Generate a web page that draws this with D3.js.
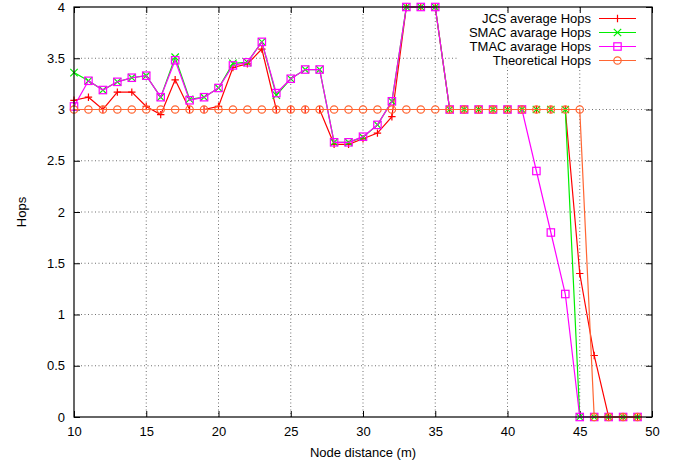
<!DOCTYPE html>
<html><head><meta charset="utf-8">
<script src="https://cdn.jsdelivr.net/npm/d3@7"></script>
<style>
html,body{margin:0;padding:0;background:#fff;}
text{font-family:"Liberation Sans",Arial,Helvetica,sans-serif;font-size:13px;fill:#000;}
</style></head>
<body><svg id="c" width="683" height="462"></svg>
<script>
const distances = d3.range(10, 50);
const jcsHops = [3.09,3.12,3.0,3.17,3.17,3.03,2.95,3.29,3.0,3.0,3.03,3.41,3.445,3.59,3.0,3.0,3.0,3.0,2.66,2.66,2.715,2.77,2.93,4,4,4,3,3,3,3,3,3,3,3,3,1.4,0.6,0,0,0];
const smacHops = [3.36,3.28,3.19,3.27,3.31,3.33,3.12,3.51,3.10,3.12,3.21,3.45,3.46,3.66,3.14,3.30,3.39,3.39,2.68,2.68,2.73,2.85,3.08,4,4,4,3,3,3,3,3,3,3,3,3,0,0,0,0,0];
const tmacHops = [3.03,3.28,3.19,3.27,3.31,3.33,3.12,3.48,3.09,3.12,3.21,3.43,3.46,3.66,3.16,3.30,3.39,3.39,2.68,2.68,2.735,2.85,3.08,4,4,4,3,3,3,3,3,3,2.4,1.8,1.2,0,0,0,0,0];
const theoreticalHops = [3,3,3,3,3,3,3,3,3,3,3,3,3,3,3,3,3,3,3,3,3,3,3,3,3,3,3,3,3,3,3,3,3,3,3,3,0,0,0,0];
const seriesNames = ["JCS average Hops","SMAC avarage Hops","TMAC avarage Hops","Theoretical Hops"];
const xTicks = [10,15,20,25,30,35,40,45,50];
const yTicks = [0,0.5,1,1.5,2,2.5,3,3.5,4];

const colors = ["#ff0000","#00ee00","#ff00ff","#ff6633"];
const markers = ["plus","cross","square","circle"];
const allSeries = [jcsHops, smacHops, tmacHops, theoreticalHops];

const L=74, R=652, T=7, B=417;
const svg = d3.select("#c");
const x = d3.scaleLinear().domain([10,50]).range([L,R]);
const y = d3.scaleLinear().domain([0,4]).range([B,T]);

// grid
const grid = svg.append("g");
xTicks.slice(1,-1).forEach(v=>{
  grid.append("line").attr("x1",x(v)).attr("x2",x(v)).attr("y1",T).attr("y2",B)
    .attr("stroke","#000").attr("stroke-width",0.8).attr("stroke-dasharray","1,2.5").attr("opacity",0.7);
});
yTicks.slice(1,-1).forEach(v=>{
  grid.append("line").attr("x1",L).attr("x2",R).attr("y1",y(v)).attr("y2",y(v))
    .attr("stroke","#000").attr("stroke-width",0.8).attr("stroke-dasharray","1,2.5").attr("opacity",0.7);
});

// legend background
svg.append("rect").attr("x",457).attr("y",11).attr("width",186).attr("height",56).attr("fill","#fff");

// axes (ticks inward, mirrored)
const tl = 6;
svg.append("g").attr("transform",`translate(0,${B})`)
  .call(d3.axisBottom(x).tickValues(xTicks).tickSize(-tl).tickPadding(10).tickFormat(d3.format("d")))
  .call(g=>{g.select(".domain").remove();g.selectAll("line").attr("stroke","#000");g.selectAll("text").attr("font-size",13).attr("font-family","Liberation Sans, Arial");});
svg.append("g").attr("transform",`translate(0,${T})`)
  .call(d3.axisTop(x).tickValues(xTicks).tickSize(-tl).tickFormat(""))
  .call(g=>{g.select(".domain").remove();g.selectAll("line").attr("stroke","#000");});
svg.append("g").attr("transform",`translate(${L},0)`)
  .call(d3.axisLeft(y).tickValues(yTicks).tickSize(-tl).tickPadding(9).tickFormat(d=>d3.format("")(d)))
  .call(g=>{g.select(".domain").remove();g.selectAll("line").attr("stroke","#000");g.selectAll("text").attr("font-size",13).attr("font-family","Liberation Sans, Arial");});
svg.append("g").attr("transform",`translate(${R},0)`)
  .call(d3.axisRight(y).tickValues(yTicks).tickSize(-tl).tickFormat(""))
  .call(g=>{g.select(".domain").remove();g.selectAll("line").attr("stroke","#000");});

function drawMarker(g, type, cx, cy, color){
  const s=3.7;
  if(type==="plus"){
    g.append("path").attr("d",`M${cx-s},${cy}H${cx+s}M${cx},${cy-s}V${cy+s}`).attr("stroke",color).attr("stroke-width",1.2).attr("fill","none");
  } else if(type==="cross"){
    g.append("path").attr("d",`M${cx-s},${cy-s}L${cx+s},${cy+s}M${cx-s},${cy+s}L${cx+s},${cy-s}`).attr("stroke",color).attr("stroke-width",1.2).attr("fill","none");
  } else if(type==="square"){
    g.append("rect").attr("x",cx-s).attr("y",cy-s).attr("width",2*s).attr("height",2*s).attr("stroke",color).attr("stroke-width",1.2).attr("fill","none");
  } else {
    g.append("circle").attr("cx",cx).attr("cy",cy).attr("r",s).attr("stroke",color).attr("stroke-width",1.2).attr("fill","none");
  }
}

const line = d3.line().x(d=>x(d[0])).y(d=>y(d[1]));
allSeries.forEach((vals,i)=>{
  const pts = distances.map((d,j)=>[d, vals[j]]);
  const g = svg.append("g");
  g.append("path").attr("d",line(pts)).attr("fill","none").attr("stroke",colors[i]).attr("stroke-width",1.2);
  pts.forEach(p=>drawMarker(g, markers[i], x(p[0]), y(p[1]), colors[i]));
});

// border
svg.append("rect").attr("x",L).attr("y",T).attr("width",R-L).attr("height",B-T)
  .attr("fill","none").attr("stroke","#000").attr("stroke-width",1.2);

// legend
const ly = [18.5,32.5,46.5,60.5];
seriesNames.forEach((n,i)=>{
  svg.append("text").attr("x",591).attr("y",ly[i]).attr("dy","0.35em").attr("text-anchor","end")
    .attr("font-size",12).text(n);
  svg.append("line").attr("x1",599).attr("x2",636).attr("y1",ly[i]).attr("y2",ly[i]).attr("stroke",colors[i]).attr("stroke-width",1.2);
  drawMarker(svg, markers[i], 617.5, ly[i], colors[i]);
});

// axis titles
svg.append("text").attr("x",(L+R)/2).attr("y",452).attr("dy","0.35em").attr("text-anchor","middle").text("Node distance (m)");
svg.append("text").attr("transform","translate(21,212) rotate(-90)").attr("dy","0.35em").attr("text-anchor","middle").text("Hops");
</script></body></html>
